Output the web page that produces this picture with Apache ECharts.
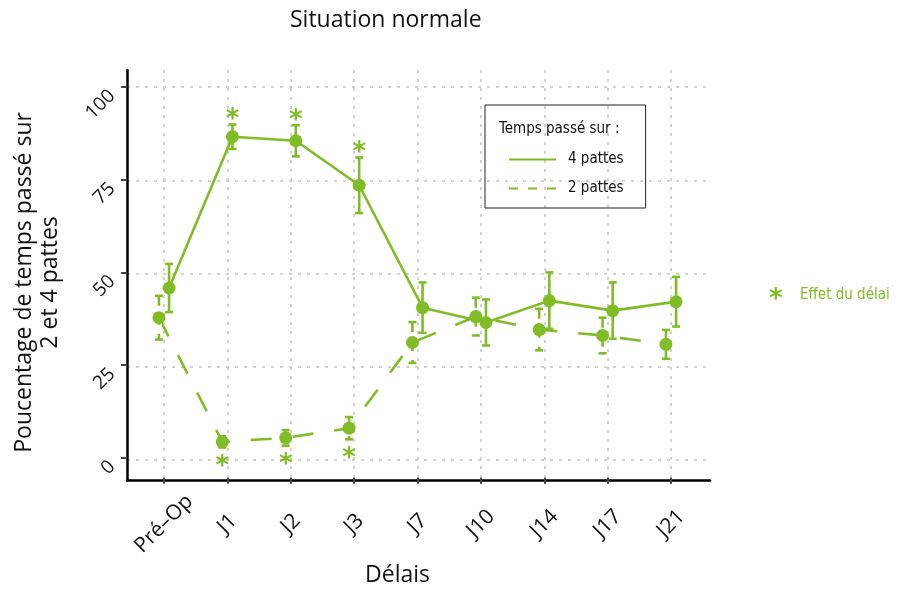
<!DOCTYPE html>
<html><head><meta charset="utf-8">
<script src="https://cdn.jsdelivr.net/npm/echarts@6/dist/echarts.min.js"></script>
<style>html,body{margin:0;padding:0;background:#fff}#c{width:897px;height:592px}</style>
</head><body><div id="c"></div>
<script>
// ---- data ----
const categories = ['Pré–Op', 'J1', 'J2', 'J3', 'J7', 'J10', 'J14', 'J17', 'J21'];
const quatreMean = [45.8, 86.6, 85.5, 73.5, 40.5, 36.5, 42.4, 39.7, 42.1];
const quatreErr  = [6.5, 3.3, 4.2, 7.5, 6.8, 6.2, 7.6, 7.6, 6.7];
const deuxMean   = [37.8, 4.3, 5.4, 8.0, 31.1, 38.1, 34.6, 33.0, 30.6];
const deuxErr    = [5.9, 1.5, 2.1, 3.0, 5.5, 5.1, 5.6, 4.8, 3.9];
const quatreSig  = [0, 1, 1, 1, 0, 0, 0, 0, 0];
const deuxSig    = [0, 1, 1, 1, 0, 0, 0, 0, 0];
const yTicks     = [0, 25, 50, 75, 100];

// ---- styling ----
const GREEN = '#80bc25';
const MAIN_FONT = 'Open Sans';
const NARROW_FONT = '"Liberation Sans Narrow", "DejaVu Sans Condensed", sans-serif';
const DODGE = 0.08;

const chart = echarts.init(document.getElementById('c'), null, {renderer: 'canvas'});

function lineData(means, dx) {
  return means.map((m, i) => [i + dx, m]);
}
function errData(means, errs, sig, dx) {
  return means.map((m, i) => [i + dx, m, m - errs[i], m + errs[i], sig[i]]);
}
function errRender(dashed, above) {
  return function (params, api) {
    const x = api.value(0);
    const top = api.coord([x, api.value(3)]);
    const bot = api.coord([x, api.value(2)]);
    const cap = 4;
    const style = {stroke: GREEN, lineWidth: 2.6, fill: null, lineDash: dashed ? [10, 9] : null};
    const children = [
      {type: 'line', shape: {x1: top[0] - cap, y1: top[1], x2: top[0] + cap, y2: top[1]}, style: style},
      {type: 'line', shape: {x1: top[0], y1: top[1], x2: bot[0], y2: bot[1]}, style: style},
      {type: 'line', shape: {x1: bot[0] - cap, y1: bot[1], x2: bot[0] + cap, y2: bot[1]}, style: style}
    ];
    if (api.value(4)) {
      const anchor = above ? top : bot;
      children.push({
        type: 'text', x: anchor[0], y: anchor[1] + (above ? -4 : 20),
        style: {text: '*', fill: GREEN, font: 'bold 26px "DejaVu Sans"', align: 'center', verticalAlign: 'middle'}
      });
    }
    return {type: 'group', children: children};
  };
}

const gridLine = {show: true, lineStyle: {color: '#c4c4c4', width: 1.5, type: [3, 6]}};
const hiddenSymbol = {opacity: 0, borderWidth: 0, borderColor: 'rgba(0,0,0,0)', color: 'rgba(0,0,0,0)'};

const option = {
  backgroundColor: '#ffffff',
  animation: false,
  title: [
    {text: 'Situation normale', left: 285, top: 4,
     textStyle: {fontFamily: MAIN_FONT, fontSize: 23, fontWeight: 'normal', color: '#111'}},
    {text: 'Temps passé sur :', left: 494, top: 117,
     textStyle: {fontFamily: NARROW_FONT, fontSize: 15, fontWeight: 'normal', color: '#111'}}
  ],
  legend: {
    orient: 'vertical', left: 485, top: 105,
    padding: [47, 22, 12, 23],
    borderColor: '#222', borderWidth: 1,
    itemWidth: 47, itemHeight: 14, itemGap: 14,
    itemStyle: hiddenSymbol,
    textStyle: {fontFamily: NARROW_FONT, fontSize: 15, color: '#111', padding: [0, 0, 0, 7]},
    data: [
      {name: '4 pattes', itemStyle: hiddenSymbol, lineStyle: {type: 'solid'}},
      {name: '2 pattes', itemStyle: hiddenSymbol, lineStyle: {type: [9, 10]}}
    ]
  },
  grid: [
    {left: 164, right: 226, top: 87, bottom: 132},
    {left: 127, right: 187, top: 87, bottom: 132},
    {left: 164, right: 226, top: 70, bottom: 112}
  ],
  xAxis: [
    {gridIndex: 0, type: 'value', min: 0, max: 8, interval: 1, offset: 20,
     axisLine: {show: false, onZero: false},
     axisTick: {show: true, length: 6, lineStyle: {color: '#444', width: 2}},
     axisLabel: {rotate: 45, margin: 46, align: 'center', verticalAlign: 'middle',
                 fontFamily: MAIN_FONT, fontSize: 21, color: '#111',
                 formatter: v => categories[v] || ''},
     splitLine: {show: false},
     name: 'Délais', nameLocation: 'middle', nameGap: 86,
     nameTextStyle: {fontFamily: MAIN_FONT, fontSize: 23, color: '#111', padding: [0, 40, 0, 0]}},
    {gridIndex: 1, type: 'value', min: 0, max: 1, offset: 20,
     axisLine: {show: true, onZero: false, lineStyle: {color: '#000', width: 2.5}},
     axisTick: {show: false}, axisLabel: {show: false}, splitLine: {show: false}},
    {gridIndex: 2, type: 'value', min: 0, max: 8, interval: 1,
     axisLine: {show: false, onZero: false}, axisTick: {show: false}, axisLabel: {show: false},
     splitLine: gridLine}
  ],
  yAxis: [
    {gridIndex: 0, type: 'value', min: 0, max: 100, interval: 25, offset: 37,
     axisLine: {show: false, onZero: false},
     axisTick: {show: true, length: 6, lineStyle: {color: '#444', width: 2}},
     axisLabel: {rotate: 45, margin: 21, verticalAlign: 'top', lineHeight: 17,
                 fontFamily: MAIN_FONT, fontSize: 19, color: '#111',
                 customValues: yTicks},
     splitLine: {show: false},
     name: 'Poucentage de temps passé sur\n2 et 4 pattes', nameLocation: 'middle', nameGap: 64,
     nameTextStyle: {fontFamily: MAIN_FONT, fontSize: 23, color: '#111', lineHeight: 26,
                     padding: [0, 20, 0, 0]}},
    {gridIndex: 1, type: 'value', min: 0, max: 100, interval: 25,
     axisLine: {show: false, onZero: false}, axisTick: {show: false}, axisLabel: {show: false},
     splitLine: gridLine},
    {gridIndex: 2, type: 'value', min: 0, max: 1, offset: 37,
     axisLine: {show: true, onZero: false, lineStyle: {color: '#000', width: 2.5}},
     axisTick: {show: false}, axisLabel: {show: false}, splitLine: {show: false}}
  ],
  series: [
    {type: 'custom', name: 'err4', xAxisIndex: 0, yAxisIndex: 0, z: 3, clip: false,
     renderItem: errRender(false, true), encode: {x: 0, y: [1, 2, 3]},
     data: errData(quatreMean, quatreErr, quatreSig, DODGE)},
    {type: 'custom', name: 'err2', xAxisIndex: 0, yAxisIndex: 0, z: 3, clip: false,
     renderItem: errRender(true, false), encode: {x: 0, y: [1, 2, 3]},
     data: errData(deuxMean, deuxErr, deuxSig, -DODGE)},
    {type: 'line', name: '4 pattes', xAxisIndex: 0, yAxisIndex: 0, z: 4, clip: false,
     symbol: 'circle', symbolSize: 13,
     itemStyle: {color: GREEN}, lineStyle: {color: GREEN, width: 2.6, type: 'solid'},
     data: lineData(quatreMean, DODGE)},
    {type: 'line', name: '2 pattes', xAxisIndex: 0, yAxisIndex: 0, z: 4, clip: false,
     symbol: 'circle', symbolSize: 13,
     itemStyle: {color: GREEN}, lineStyle: {color: GREEN, width: 2.6, type: [21, 21]},
     data: lineData(deuxMean, -DODGE)}
  ],
  graphic: [
    {type: 'text', left: 769, top: 287,
     style: {text: '*', fill: GREEN, font: 'bold 26px "DejaVu Sans"'}},
    {type: 'text', left: 800, top: 288,
     style: {text: 'Effet du délai', fill: GREEN, font: '15px "Liberation Sans Narrow", "DejaVu Sans Condensed", sans-serif'}}
  ]
};
chart.setOption(option);
</script>
</body></html>
